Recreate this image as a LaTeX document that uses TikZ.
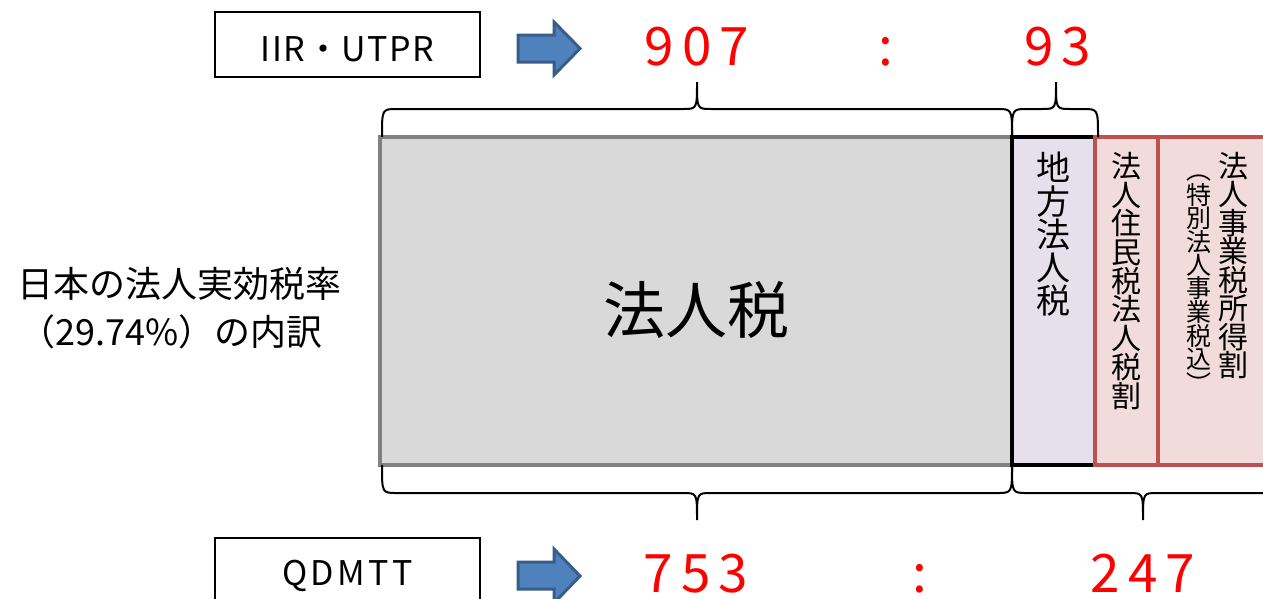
\documentclass[tikz,border=0pt]{standalone}
\usepackage{fontspec}
\setmainfont{Noto Sans CJK JP}
\usepackage{graphicx}
\newcommand\vlp{\rotatebox[origin=c]{-90}{（}}
\newcommand\vrp{\rotatebox[origin=c]{-90}{）}}
\definecolor{grayfill}{HTML}{D9D9D9}
\definecolor{grayline}{HTML}{808080}
\definecolor{purfill}{HTML}{E6E0EC}
\definecolor{redfill}{HTML}{F2DCDB}
\definecolor{redline}{HTML}{C0504D}
\definecolor{arrfill}{HTML}{4F81BD}
\definecolor{arrline}{HTML}{385D8A}
\definecolor{numred}{HTML}{FF0000}
\tikzset{
  labelbox/.style={draw=black, line width=2pt, fill=white, minimum width=265pt, minimum height=65pt, inner sep=0pt},
  labeltext/.style={inner sep=0pt, anchor=base},
  num/.style={text=numred, font=\fontsize{53}{53}\selectfont\addfontfeature{LetterSpace=15}, inner sep=0pt, anchor=base},
  blockarrow/.style={fill=arrfill, draw=arrline, line width=3pt, line join=miter},
  bar/.style={inner sep=0pt, line width=4.5pt},
  vtext/.style={align=center, inner sep=0pt, anchor=north},
  bracestyle/.style={draw=black, line width=2pt},
}
\newcommand\topbrace[3]{%
  \draw[bracestyle] (#1,137) .. controls (#1,109) .. ({#1+15},109) -- ({#3-14},109)
    .. controls (#3,109) .. (#3,82) .. controls (#3,109) .. ({#3+14},109)
    -- ({#2-15},109) .. controls (#2,109) .. (#2,137);}
\newcommand\botbrace[3]{%
  \draw[bracestyle] (#1,465) .. controls (#1,493) .. ({#1+15},493) -- ({#3-14},493)
    .. controls (#3,493) .. (#3,520) .. controls (#3,493) .. ({#3+14},493)
    -- ({#2-15},493) .. controls (#2,493) .. (#2,465);}
\begin{document}
\begin{tikzpicture}[x=1pt,y=-1pt]
\clip (0,0) rectangle (1263,598);
\fill[white] (0,0) rectangle (1263,598);

% label boxes
\node[labelbox] (iir) at (347.5,44.5) {};
\node[labeltext, font=\fontsize{34}{34}\selectfont\addfontfeature{LetterSpace=4}] (iirtext) at (347.5,61) {IIR・UTPR};
\node[labelbox] (qdmtt) at (347.5,570) {};
\node[labeltext, font=\fontsize{34}{34}\selectfont\addfontfeature{LetterSpace=10}] (qdmtttext) at (347.5,585) {QDMTT};

% block arrows
\draw[blockarrow] (518,35) -- (554,35) -- (554,22) -- (580,48.5) -- (554,75) -- (554,62) -- (518,62) -- cycle;
\draw[blockarrow] (518,562) -- (554,562) -- (554,549) -- (580,576) -- (554,603) -- (554,589) -- (518,589) -- cycle;

% numbers
\node[num] (n907) at (697,65) {907};
\node[num] (c1) at (886,65) {:};
\node[num] (n93) at (1058,65) {93};
\node[num] (n753) at (696,592) {753};
\node[num] (c2) at (920,592) {:};
\node[num] (n247) at (1143,592) {247};

% bars
\node[bar, fill=grayfill, draw=grayline, minimum width=632pt, minimum height=328pt] (corp) at (696,301) {};
\node[font=\fontsize{62}{62}\selectfont, inner sep=0pt] (corptext) at (696,310) {法人税};
\node[bar, fill=purfill, draw=black, minimum width=83pt, minimum height=328pt] (local) at (1053.5,301) {};
\node[bar, fill=redfill, draw=redline, minimum width=63pt, minimum height=328pt] (res) at (1126.5,301) {};
\node[bar, fill=redfill, draw=redline, minimum width=140pt, minimum height=328pt] (biz) at (1228,301) {};

% vertical texts
\node[vtext, font=\fontsize{34}{33.3}\selectfont] (localtext) at (1053.5,152) {地\\方\\法\\人\\税};
\node[vtext, font=\fontsize{30}{28.7}\selectfont] (restext) at (1126.5,152) {法\\人\\住\\民\\税\\法\\人\\税\\割};
\node[vtext, font=\fontsize{30}{28.5}\selectfont] (biztext) at (1233,152) {法\\人\\事\\業\\税\\所\\得\\割};
\node[vtext, font=\fontsize{25}{23}\selectfont] (biznote) at (1199,157) {\vlp\\特\\別\\法\\人\\事\\業\\税\\込\\\vrp};

% left title
\node[font=\fontsize{36}{36}\selectfont, inner sep=0pt, anchor=base] (titleA) at (179,297) {日本の法人実効税率};
\node[font=\fontsize{36}{36}\selectfont, inner sep=0pt, anchor=base] (titleB) at (171,345) {（29.74\%）の内訳};

% braces
\topbrace{382}{1012}{697}
\topbrace{1012}{1098}{1056}
\botbrace{382}{1012}{697}
\botbrace{1012}{1290}{1143}
\end{tikzpicture}
\end{document}
